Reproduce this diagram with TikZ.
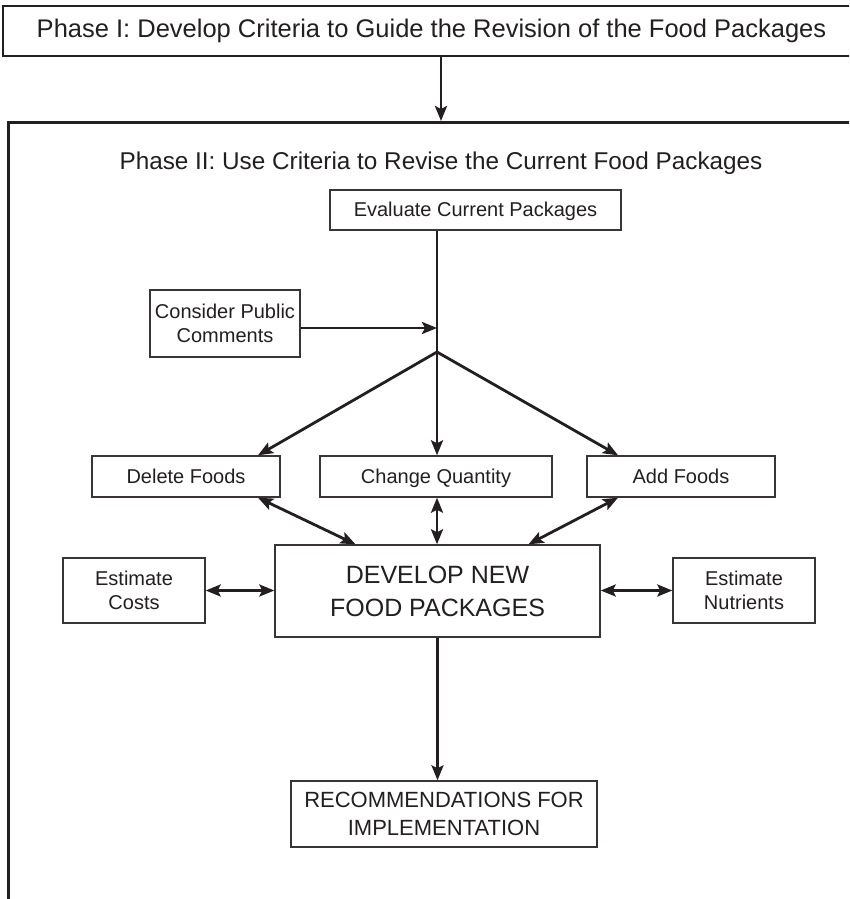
\documentclass[tikz,border=0pt]{standalone}
\usepackage{fontspec}
\setmainfont{Liberation Sans}
\usetikzlibrary{arrows.meta,calc}
\definecolor{ink}{HTML}{231F20}
\begin{document}
\begin{tikzpicture}[x=1pt,y=-1pt,
  every node/.style={text=ink, font=\fontsize{20}{24}\selectfont},
  box/.style={draw=ink!90, line width=1.4pt, inner sep=0pt, align=center},
  oneline/.style={text height=17pt, text depth=3.5pt},
  bigbox/.style={draw=ink, line width=2.6pt, inner sep=0pt},
  tip/.tip={Stealth[length=15pt,width=12pt,inset=3pt]},
  arr/.style={draw=ink, line width=2.8pt, -tip},
  darr/.style={draw=ink, line width=2.8pt, tip-tip},
  plain/.style={draw=ink, line width=2.8pt}]
\useasboundingbox (0,0) rectangle (849,899);
\clip (0,0) rectangle (849,899);
\fill[white] (0,0) rectangle (849,899);

\node[bigbox, minimum width=857pt, minimum height=50pt,
      font=\fontsize{25.5}{30}\selectfont] (p1) at (431.5,31)
  {Phase I: Develop Criteria to Guide the Revision of the Food Packages};
\node[bigbox, minimum width=873pt, minimum height=809pt, anchor=north west] (p2) at (7,121) {};
\node[font=\fontsize{24.3}{28}\selectfont] (t2) at (441,163)
  {Phase II: Use Criteria to Revise the Current Food Packages};
\draw[arr] (p1.south -| t2) -- (p2.north -| t2);

\node[box, oneline, minimum width=291pt, minimum height=40pt] (eval) at (475.5,210) {Evaluate Current Packages};
\node[box, minimum width=150pt, minimum height=67pt] (cons) at (225,323.5) {Consider Public\\Comments};
\coordinate (join) at (437,328);
\coordinate (split) at (437,352);
\draw[plain] (eval.south -| split) -- (split);
\draw[arr] (cons.east |- join) -- (join);

\node[box, oneline, minimum width=188pt, minimum height=41pt] (del) at (186,476.5) {Delete Foods};
\node[box, oneline, minimum width=232pt, minimum height=41pt] (chg) at (436,476.5) {Change Quantity};
\node[box, oneline, minimum width=188pt, minimum height=41pt] (add) at (681,476.5) {Add Foods};

\draw[arr] (split) -- ($(del.north)+(72,0)$);
\draw[arr] (split) -- (split |- chg.north);
\draw[arr] (split) -- ($(add.north)+(-63,0)$);

\node[box, minimum width=325pt, minimum height=92pt, font=\fontsize{25}{33}\selectfont] (dev) at (437.5,591) {DEVELOP NEW\\FOOD PACKAGES};
\node[box, minimum width=142pt, minimum height=65pt] (cost) at (134,590.5) {Estimate\\Costs};
\node[box, minimum width=142pt, minimum height=65pt] (nut) at (744,590.5) {Estimate\\Nutrients};

\draw[darr] ($(del.south)+(72,0)$) -- ($(dev.north)+(-82,0)$);
\draw[darr] (split |- chg.south) -- (split |- dev.north);
\draw[darr] ($(add.south)+(-63,0)$) -- ($(dev.north)+(91,0)$);
\draw[darr] (cost.east) -- (cost.east -| dev.west);
\draw[darr] (nut.west) -- (nut.west -| dev.east);

\node[box, minimum width=306pt, minimum height=66pt, font=\fontsize{22}{28}\selectfont] (rec) at (444,814) {RECOMMENDATIONS FOR\\IMPLEMENTATION};
\draw[arr] (dev.south) -- (dev.south |- rec.north);
\end{tikzpicture}
\end{document}
